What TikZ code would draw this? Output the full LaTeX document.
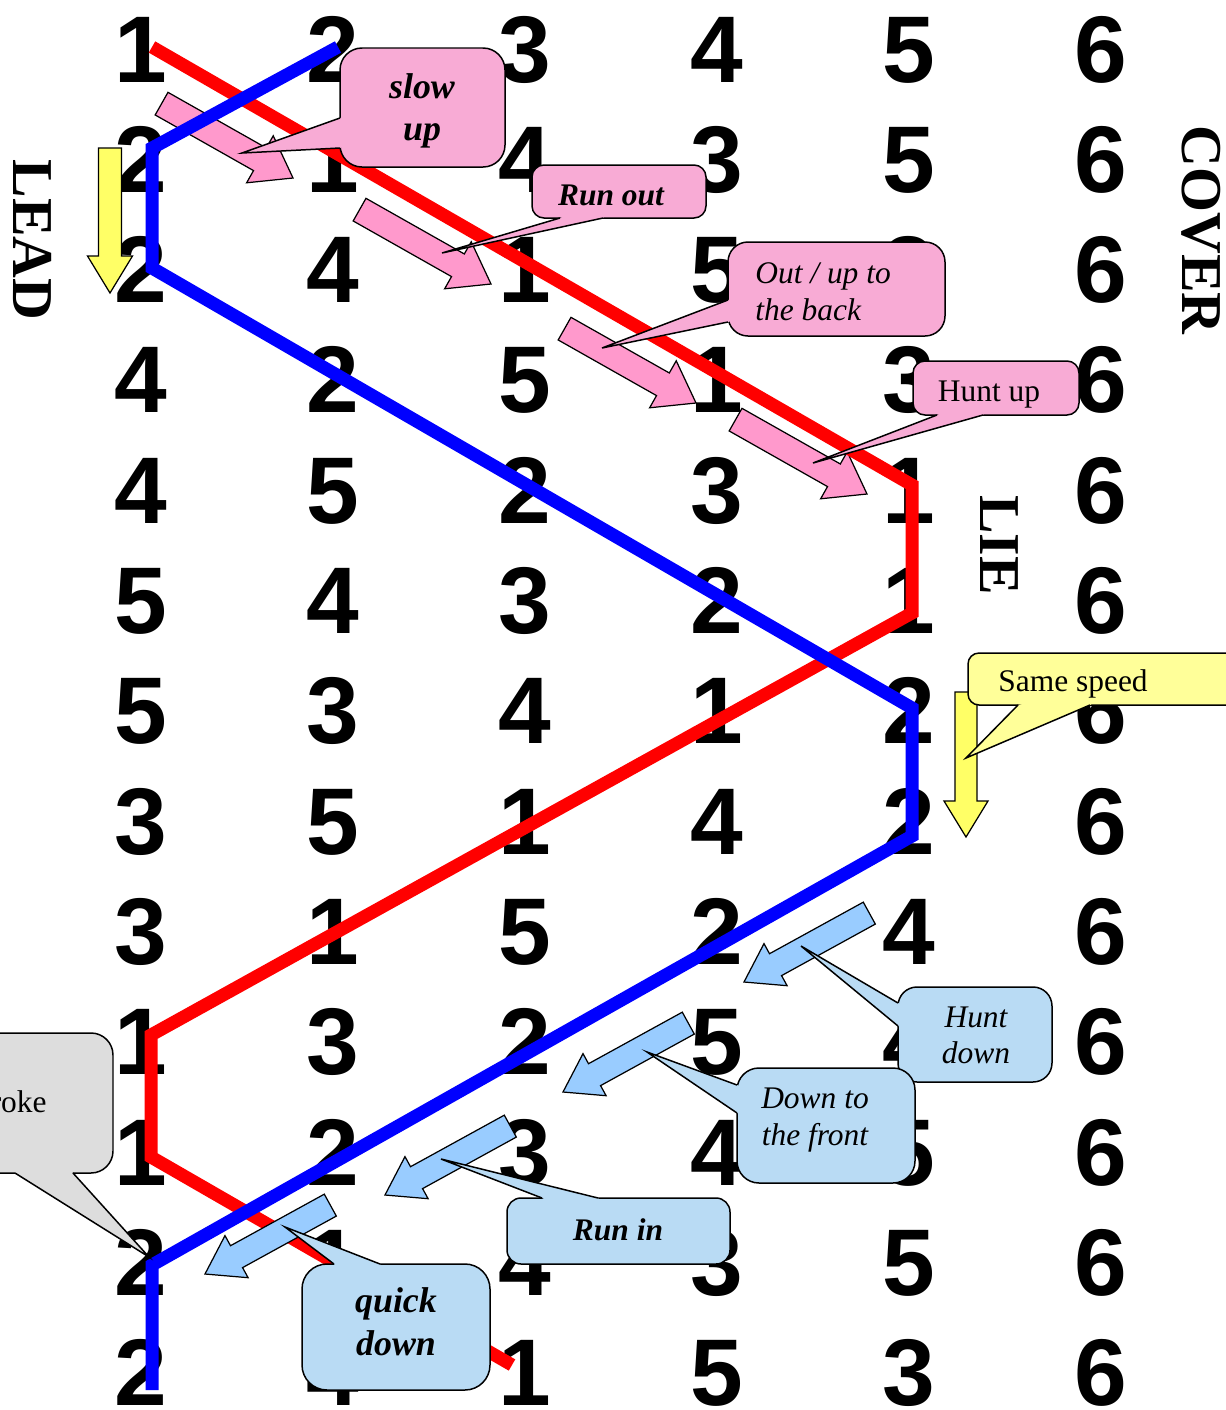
\documentclass[tikz,border=0pt]{standalone}
\usepackage{fontspec}
\setmainfont{Liberation Serif}
\setsansfont{Liberation Sans}
\usetikzlibrary{calc}
\definecolor{pinkA}{HTML}{FF99CC}
\definecolor{pinkC}{HTML}{F8ABD5}
\definecolor{blueA}{HTML}{99CCFF}
\definecolor{blueC}{HTML}{B9DBF4}
\definecolor{yellowA}{HTML}{FFFF66}
\definecolor{yellowC}{HTML}{FFFF99}
\definecolor{greyC}{HTML}{DDDDDD}
\definecolor{redL}{HTML}{FF0000}
\definecolor{blueL}{HTML}{0000FF}
\newcommand{\callshape}[7]{%
  \draw[callline, fill=#1, rounded corners=#4] (#2) rectangle (#3);
  \fill[#1] (#5) -- (#7) -- (#6) -- ($(#2)!0.5!(#3)$) -- cycle;
  \draw[callline] (#5) -- (#7) -- (#6);
}
\tikzset{
  dig/.style={font=\sffamily\bfseries\fontsize{53.9pt}{54pt}\selectfont, inner sep=0, anchor=base},
  side/.style={font=\rmfamily\bfseries\fontsize{32.9pt}{33pt}\selectfont, inner sep=0, rotate=-90},
  ct/.style={font=\rmfamily\fontsize{17.9pt}{18pt}\selectfont, inner sep=0, anchor=base},
  cti/.style={font=\rmfamily\itshape\fontsize{17.9pt}{18pt}\selectfont, inner sep=0, anchor=base},
  ctbi/.style={font=\rmfamily\bfseries\itshape\fontsize{17.9pt}{18pt}\selectfont, inner sep=0, anchor=base},
  ctbig/.style={font=\rmfamily\bfseries\itshape\fontsize{20.4pt}{21pt}\selectfont, inner sep=0, anchor=base},
  callline/.style={draw=black, line width=0.85pt},
  arrowline/.style={draw=black, line width=0.7pt, line join=miter},
  pathline/.style={line width=0.26cm, line join=miter, line cap=butt},
  pinkarrow/.pic={\draw[arrowline, fill=pinkA] (0,0) -- (-38,27) -- (-38,13) -- (-151,13) -- (-151,-13) -- (-38,-13) -- (-38,-27) -- cycle;},
  bluearrow/.pic={\draw[arrowline, fill=blueA] (0,0) -- (-36,24) -- (-36,12.5) -- (-143,12.5) -- (-143,-12.5) -- (-36,-12.5) -- (-36,-24) -- cycle;}
}
\begin{document}
\begin{tikzpicture}[x=0.02cm, y=-0.02cm]
\useasboundingbox (0,0) rectangle (1225,1410);
\fill[white] (0,0) rectangle (1225,1410);

% number grid
\foreach \row [count=\i] in {{1,2,3,4,5,6},{2,1,4,3,5,6},{2,4,1,5,3,6},{4,2,5,1,3,6},{4,5,2,3,1,6},{5,4,3,2,1,6},{5,3,4,1,2,6},{3,5,1,4,2,6},{3,1,5,2,4,6},{1,3,2,5,4,6},{1,2,3,4,5,6},{2,1,4,3,5,6},{2,4,1,5,3,6}}{
  \foreach \d [count=\j] in \row {
    \node[dig] (n\i-\j) at ({141+192*(\j-1)}, {82+110.3*(\i-1)}) {\d};
  }
}

% side labels
\node[side] (lead) at (33,240) {LEAD};
\node[side] (cover) at (1201,230) {COVER};
\node[side] (lie) at (999,545) {LIE};

% pink arrows
\pic[rotate=-29.5] at (293,178) {pinkarrow};
\pic[rotate=-29.5] at (491,284) {pinkarrow};
\pic[rotate=-29.5] at (696,403) {pinkarrow};
\pic[rotate=-29.5] at (867,494) {pinkarrow};

% yellow arrows
\draw[arrowline, fill=yellowA] (98.5,148) -- (121.5,148) -- (121.5,256) -- (132.5,256) -- (110,293) -- (87.5,256) -- (98.5,256) -- cycle;
\draw[arrowline, fill=yellowA] (955,692) -- (977,692) -- (977,801) -- (988,801) -- (966,837) -- (944,801) -- (955,801) -- cycle;

% lines
\draw[pathline, redL] (152,47) -- (912,485) -- (912,613) -- (151,1035) -- (151,1157) -- (512,1365);
\draw[pathline, blueL] (338,47) -- (152,148) -- (152,268) -- (912,708) -- (912,836) -- (152,1265) -- (152,1390);

% blue arrows
\pic[rotate=208.8] at (744,982) {bluearrow};
\pic[rotate=208.8] at (563,1092) {bluearrow};
\pic[rotate=208.8] at (385,1195) {bluearrow};
\pic[rotate=208.8] at (205,1274) {bluearrow};

% callouts
\callshape{pinkC}{340,48}{505,167}{0.44cm}{340,118}{340,148}{242,153}
\node[ctbig] (slow) at (422,98) {slow};
\node[ctbig] (up) at (422,140) {up};

\callshape{pinkC}{532,165}{706,218}{0.24cm}{560,218}{603,218}{442,253}
\node[ctbi] (runout) at (611,205) {Run out};

\callshape{pinkC}{728,242}{945,336}{0.4cm}{728,300}{728,322}{602,348}
\node[cti, anchor=base west] (outup) at (755,283) {Out / up to};
\node[cti, anchor=base west] (back) at (755,320) {the back};

\callshape{pinkC}{913,361}{1079,415}{0.24cm}{937,415}{983,415}{813,463}
\node[ct] (huntup) at (989,401) {Hunt up};

\callshape{yellowC}{968,653}{1290,705}{0.22cm}{1018,705}{1090,705}{966,758}
\node[ct, anchor=base west] (same) at (998,691) {Same speed};

\callshape{blueC}{898,987}{1052,1082}{0.38cm}{898,1003}{898,1026}{801,946}
\node[cti] (hunt) at (976,1027) {Hunt};
\node[cti] (down1) at (976,1063) {down};

\callshape{blueC}{737,1068}{915,1183}{0.44cm}{737,1085}{737,1113}{647,1052}
\node[cti] (downto) at (815,1108) {Down to};
\node[cti] (front) at (815,1145) {the front};

\callshape{blueC}{507,1198}{730,1264}{0.28cm}{542,1198}{598,1198}{441,1159}
\node[ctbi] (runin) at (618,1240) {Run in};

\callshape{blueC}{302,1264}{490,1390}{0.5cm}{334,1264}{380,1264}{285,1227}
\node[ctbig] (quick) at (396,1312) {quick};
\node[ctbig] (down2) at (396,1355) {down};

\callshape{greyC}{-60,1033}{113,1173}{0.44cm}{15,1173}{73,1173}{149,1257}
\node[ct, anchor=base east] (roke) at (47,1112) {roke};
\end{tikzpicture}
\end{document}
